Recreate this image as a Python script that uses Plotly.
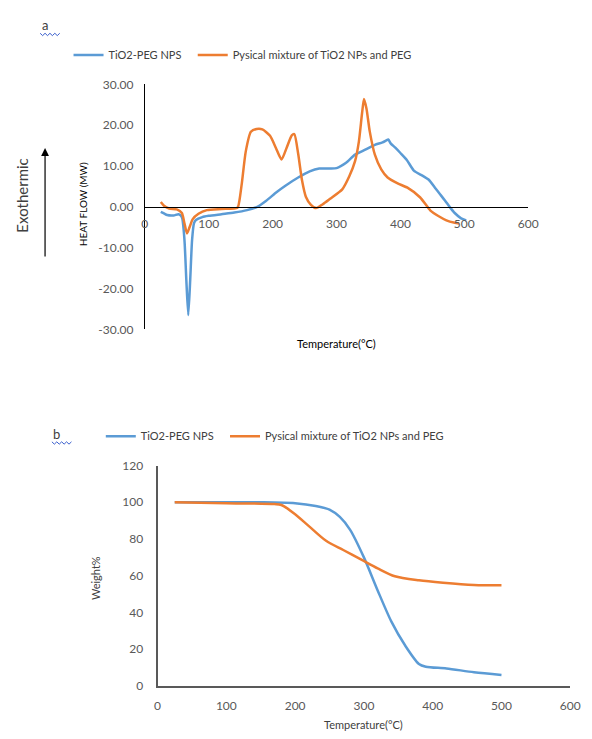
import plotly.graph_objects as go

# ---------------- data ----------------
series_names = ["TiO2-PEG NPS", "Pysical mixture of TiO2 NPs and PEG"]

# DSC (panel a)
dsc_blue_T = [25, 30, 35, 45, 53, 58, 62, 65, 68, 71, 74, 77, 80, 90, 100, 120, 140, 160, 176, 190,
              206, 220, 240, 258, 273, 290, 300, 315, 329, 345, 360, 372, 378, 381, 385, 392, 400,
              410, 421, 435, 444, 455, 462, 470, 477, 485, 495, 503]
dsc_blue_H = [-1.2, -1.6, -2.0, -2.1, -1.8, -2.5, -8, -18, -26.5, -18, -8, -4, -3.2, -2.5, -2.2, -1.8,
              -1.4, -0.8, 0, 1.5, 3.6, 5.2, 7.2, 8.7, 9.4, 9.4, 9.5, 10.8, 12.8, 14.0, 15.2, 15.8,
              16.3, 16.5, 15.5, 14.5, 13.2, 11.5, 8.9, 7.6, 6.7, 4.5, 3.1, 1.5, 0, -1.5, -2.8, -3.3]

dsc_orange_T = [25, 30, 38, 50, 58, 62, 66, 70, 75, 84, 97, 120, 145, 148, 152, 158, 166, 175, 184,
                196, 205, 214, 222, 230, 234, 240, 246, 252, 260, 268, 278, 290, 309, 320, 329, 335,
                340, 343, 347, 352, 360, 370, 380, 395, 411, 431, 447, 460, 472, 485, 492]
dsc_orange_H = [1.2, 0.3, -0.4, -0.6, -1.5, -4, -6.5, -5, -3, -1.7, -0.8, -0.5, -0.2, 1.5, 6, 13.6,
                18.4, 19.1, 19.0, 17.4, 14.5, 11.6, 14.5, 17.5, 17.8, 13, 6.5, 2.5, 0.5, -0.3, 0.6,
                2.0, 4.3, 7.5, 11.2, 16, 23, 26.4, 24, 18.5, 12.8, 9.2, 7.2, 5.8, 4.7, 2.3, -0.9,
                -2.3, -3.3, -3.9, -4.1]

# TGA (panel b)
tga_blue_T = [25, 100, 150, 200, 230, 250, 265, 280, 300, 320, 340, 360, 380, 390, 420, 460, 500]
tga_blue_W = [100, 100, 100, 99.5, 98, 96, 92, 85, 70, 52, 35, 22, 12, 10.5, 9.5, 7.5, 6]

tga_orange_T = [25, 100, 170, 180, 200, 220, 245, 270, 297, 320, 345, 380, 415, 460, 500]
tga_orange_W = [100, 99.5, 99, 98.5, 93.5, 87, 79, 74, 68.6, 64, 59.7, 57.5, 56.2, 55, 54.8]

dsc_yticks = [-30, -20, -10, 0, 10, 20, 30]
dsc_yticktext = ["-30.00", "-20.00", "-10.00", "0.00", "10.00", "20.00", "30.00"]
temp_ticks = [0, 100, 200, 300, 400, 500, 600]
tga_yticks = [0, 20, 40, 60, 80, 100, 120]

BLUE = "#5B9BD5"
ORANGE = "#ED7D31"
W, H = 592, 739
FONT = "Lato"
TXT = "#404040"
TICK = "#595959"


def px(x):
    return x / W


def py(y):
    return 1 - y / H


fig = go.Figure()
fig.add_trace(go.Scatter(x=dsc_blue_T, y=dsc_blue_H, mode="lines", name=series_names[0],
                         line=dict(color=BLUE, width=2.5, shape="spline", smoothing=0.6),
                         xaxis="x", yaxis="y", legend="legend"))
fig.add_trace(go.Scatter(x=dsc_orange_T, y=dsc_orange_H, mode="lines", name=series_names[1],
                         line=dict(color=ORANGE, width=2.5, shape="spline", smoothing=0.6),
                         xaxis="x", yaxis="y", legend="legend2"))
fig.add_trace(go.Scatter(x=tga_blue_T, y=tga_blue_W, mode="lines", name=series_names[0],
                         line=dict(color=BLUE, width=2.5, shape="spline", smoothing=0.8),
                         xaxis="x2", yaxis="y2", legend="legend3"))
fig.add_trace(go.Scatter(x=tga_orange_T, y=tga_orange_W, mode="lines", name=series_names[1],
                         line=dict(color=ORANGE, width=2.5, shape="spline", smoothing=0.8),
                         xaxis="x2", yaxis="y2", legend="legend4"))

# position of y=0 in panel a (paper)
y0_paper = py(203)

tickfont = dict(family=FONT, size=12, color=TICK)


def leg(xpix, ypix):
    return dict(orientation="h", x=px(xpix), y=py(ypix), xanchor="left", yanchor="middle",
                font=dict(family=FONT, size=11, color=TXT), itemwidth=30,
                bgcolor="rgba(0,0,0,0)", borderwidth=0)


fig.update_layout(
    width=W, height=H,
    margin=dict(l=0, r=0, t=0, b=0),
    paper_bgcolor="white", plot_bgcolor="white",
    showlegend=True,
    xaxis=dict(domain=[px(145), px(537)], range=[0, 600], anchor="free", position=y0_paper,
               showline=True, linecolor="black", linewidth=1, tickvals=temp_ticks, ticks="",
               showgrid=False, zeroline=False, tickfont=tickfont, ticklabelstandoff=6),
    yaxis=dict(domain=[py(328), py(78)], range=[-30, 30], anchor="x",
               showline=True, linecolor="black", linewidth=1, tickvals=dsc_yticks,
               ticktext=dsc_yticktext, ticks="", showgrid=False, zeroline=False,
               tickfont=tickfont, ticklabelstandoff=8),
    xaxis2=dict(domain=[px(158), px(580)], range=[0, 600], anchor="y2",
                showline=True, linecolor="#595959", linewidth=2, tickvals=temp_ticks, ticks="",
                showgrid=False, zeroline=False, tickfont=tickfont, ticklabelstandoff=8),
    yaxis2=dict(domain=[py(692), py(467)], range=[0, 120], anchor="x2",
                showline=True, linecolor="#595959", linewidth=2, tickvals=tga_yticks, ticks="",
                showgrid=False, zeroline=False, tickfont=tickfont, ticklabelstandoff=10),
    legend=leg(67, 48),
    legend2=leg(194, 48),
    legend3=leg(100, 437),
    legend4=leg(227, 437),
)

ann = [
    dict(text="a", x=px(43), y=py(17), font=dict(family=FONT, size=13, color=TXT)),
    dict(text="b", x=px(55), y=py(435), font=dict(family=FONT, size=13, color=TXT)),
    dict(text="Exothermic", x=px(20), y=py(192), textangle=-90,
         font=dict(family=FONT, size=15, color=TXT)),
    dict(text="HEAT FLOW (MW)", x=px(82), y=py(200), textangle=-90,
         font=dict(family=FONT, size=10, color="black")),
    dict(text="Temperature(°C)", x=px(341), y=py(342),
         font=dict(family=FONT, size=11, color="black")),
    dict(text="Weight%", x=px(94), y=py(582), textangle=-90,
         font=dict(family=FONT, size=11, color=TXT)),
    dict(text="Temperature(°C)", x=px(369), y=py(731),
         font=dict(family=FONT, size=11, color=TXT)),
]
for a in ann:
    fig.add_annotation(xref="paper", yref="paper", showarrow=False, xanchor="center",
                       yanchor="middle", **a)

# upward arrow beside "Exothermic"
fig.add_annotation(xref="paper", yref="paper", x=px(43), y=py(143), text="", showarrow=True,
                   ax=0, ay=110, arrowhead=2, arrowsize=1.3, arrowwidth=1.2, arrowcolor="black")


# spell-check style wavy underline under the panel letters
def wavy(x0, y0, n=4, step=2.5, amp=1.2):
    pts = []
    for i in range(n * 2 + 1):
        xx = x0 + i * step
        yy = y0 + (amp if i % 2 else -amp)
        pts.append(f"{px(xx):.5f},{py(yy):.5f}")
    return "M" + " L".join(pts)


for (wx, wy) in [(38, 27), (50, 444)]:
    fig.add_shape(type="path", xref="paper", yref="paper", path=wavy(wx, wy),
                  line=dict(color="#3A5FCD", width=1))

fig.write_html("out.html")
